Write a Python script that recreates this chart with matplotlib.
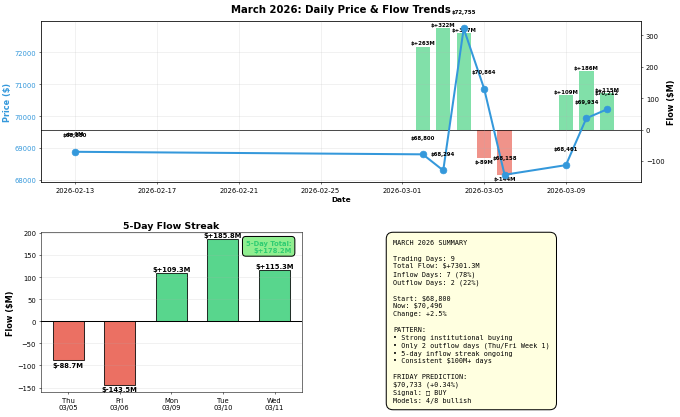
import numpy as np
import pandas as pd
import matplotlib
matplotlib.use('Agg')
import matplotlib.pyplot as plt
import matplotlib.dates as mdates

# daily price / flow data
dates = ['2026-02-13', '2026-03-02', '2026-03-03', '2026-03-04', '2026-03-05',
         '2026-03-06', '2026-03-09', '2026-03-10', '2026-03-11']
prices = [68880, 68800, 68294, 72755, 70864, 68158, 68461, 69934, 70212]
flows = [0, 263, 322, 307, -89, -144, 109, 186, 115]

# 5-day streak
streak_days = ['Thu\n03/05', 'Fri\n03/06', 'Mon\n03/09', 'Tue\n03/10', 'Wed\n03/11']
streak_flows = [-88.7, -143.5, 109.3, 185.8, 115.3]

# the signal emoji shows up as an empty box in the original render
summary = """MARCH 2026 SUMMARY

Trading Days: 9
Total Flow: $+7301.3M
Inflow Days: 7 (78%)
Outflow Days: 2 (22%)

Start: $68,800
Now: $70,496
Change: +2.5%

PATTERN:
\u2022 Strong institutional buying
\u2022 Only 2 outflow days (Thu/Fri Week 1)
\u2022 5-day inflow streak ongoing
\u2022 Consistent $100M+ days

FRIDAY PREDICTION:
$70,733 (+0.34%)
Signal: \u25a1 BUY
Models: 4/8 bullish"""

GREEN = '#2ecc71'
RED = '#e74c3c'
BLUE = '#3498db'

DPI = 680 / 14
fig = plt.figure(figsize=(14, 418 / DPI), dpi=DPI)

# ---- top: price line + flow bars
ax1 = fig.add_axes([0.060, 0.562, 0.883, 0.385])
ax2 = ax1.twinx()
d = pd.to_datetime(dates)

bar_colors = [GREEN if f > 0 else RED for f in flows]
ax2.bar(d, flows, width=0.7, color=bar_colors, alpha=0.6)
ax2.axhline(0, color='black', linewidth=1.5, alpha=0.7)
for x, f in zip(d, flows):
    if f > 0:
        ax2.text(x, f + 5, f'${f:+.0f}M', ha='center', va='bottom',
                 fontsize=8, fontweight='bold')
    else:
        ax2.text(x, f - 5, f'${f:+.0f}M', ha='center', va='top',
                 fontsize=8, fontweight='bold')
ax2.set_ylabel('Flow ($M)', fontsize=12, fontweight='bold')

ax1.plot(d, prices, 'o-', color=BLUE, linewidth=3, markersize=10)
for x, p in zip(d, prices):
    ax1.text(x, p + 450, f'${p:,.0f}', ha='center', va='bottom',
             fontsize=8, fontweight='bold')
ax1.set_zorder(ax2.get_zorder() + 1)
ax1.patch.set_visible(False)

ax1.set_xlabel('Date', fontsize=11, fontweight='bold')
ax1.set_ylabel('Price ($)', fontsize=12, fontweight='bold', color=BLUE)
ax1.tick_params(axis='y', labelcolor=BLUE)
ax1.xaxis.set_major_locator(mdates.DayLocator(bymonthday=[1, 5, 9, 13, 17, 21, 25, 29]))
ax1.xaxis.set_major_formatter(mdates.DateFormatter('%Y-%m-%d'))
ax1.grid(True, alpha=0.3)
ax1.set_title('March 2026: Daily Price & Flow Trends', fontsize=15,
              fontweight='bold', pad=14)

# ---- bottom left: streak bars
ax3 = fig.add_axes([0.060, 0.060, 0.384, 0.383])
xs = np.arange(len(streak_flows))
colors = [GREEN if v > 0 else RED for v in streak_flows]
ax3.bar(xs, streak_flows, width=0.6, color=colors, alpha=0.8,
        edgecolor='black', linewidth=1.5)
ax3.axhline(0, color='black', linewidth=1.5)
for x, v in zip(xs, streak_flows):
    if v > 0:
        ax3.text(x, v + 3, f'${v:+.1f}M', ha='center', va='bottom',
                 fontsize=10, fontweight='bold')
    else:
        ax3.text(x, v - 3, f'${v:+.1f}M', ha='center', va='top',
                 fontsize=10, fontweight='bold')
ax3.set_xticks(xs)
ax3.set_xticklabels(streak_days)
ax3.set_ylabel('Flow ($M)', fontsize=12, fontweight='bold')
ax3.set_title('5-Day Flow Streak', fontsize=14, fontweight='bold')
ax3.grid(True, axis='y', alpha=0.3)
total = sum(streak_flows)
ax3.text(0.96, 0.95, f'5-Day Total:\n${total:+.1f}M', transform=ax3.transAxes,
         ha='right', va='top', fontsize=10, fontweight='bold', color=GREEN,
         bbox=dict(boxstyle='round,pad=0.5', facecolor='lightgreen',
                   edgecolor='black', linewidth=1.5))

# ---- summary box
fig.text(393 / 680, 1 - 240 / 418, summary, family='monospace', fontsize=10,
         ha='left', va='top', linespacing=1.36,
         bbox=dict(boxstyle='round,pad=1', facecolor='lightyellow',
                   edgecolor='black', linewidth=1.5))

fig.savefig('out.png', dpi=DPI)
